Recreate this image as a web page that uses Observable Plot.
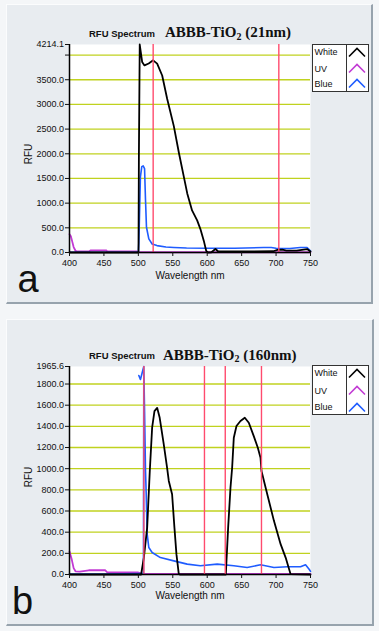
<!DOCTYPE html>
<html><head><meta charset="utf-8">
<script src="https://cdn.jsdelivr.net/npm/d3@7"></script>
<script src="https://cdn.jsdelivr.net/npm/@observablehq/plot@0.6"></script>
<style>
body{margin:0;background:#f4f6f8;}
#wrap{position:relative;width:379px;height:631px;overflow:hidden;font-family:"Liberation Sans",Arial,sans-serif;color:#111;}
.panel{position:absolute;background:#e8ecf0;border-top:1px solid #fbfcfd;border-left:1px solid #fbfcfd;border-right:2px solid #97a3ad;border-bottom:2px solid #97a3ad;box-sizing:border-box;}
.abs{position:absolute;white-space:nowrap;}
.t1{font-weight:bold;font-size:9.5px;line-height:10px;}
.t2{font-family:"Liberation Serif","Times New Roman",serif;font-weight:bold;font-size:15px;line-height:15px;}
.t2 .sub{font-size:10px;position:relative;top:2.5px;}
.xl{font-size:10px;line-height:10px;}
.yl{font-size:10px;line-height:10px;transform:rotate(-90deg);transform-origin:center center;}
.letter{font-size:38px;line-height:38px;}
.legend{position:absolute;background:#fff;border:1px solid #333;box-sizing:border-box;}
.legend .div{position:absolute;top:0;bottom:0;left:33px;width:1px;background:#333;}
.legend .lab{position:absolute;left:2px;font-size:9px;line-height:10px;}
.legend .ico{position:absolute;left:35px;width:20px;height:11px;}
.legend .ico svg{display:block;}
svg.plot{position:absolute;left:0;}
</style>
</head><body>
<div id="wrap"></div>
<script>
// ---------- data (wavelength nm / RFU) ----------
const xTicks = [400, 450, 500, 550, 600, 650, 700, 750];
const seriesNames = ["White", "UV", "Blue"];

// Panel a: ABBB-TiO2 (21nm)
const aTitle = "(21nm)";
const aYMax = 4214.1;
const aYTicks = [0, 500, 1000, 1500, 2000, 2500, 3000, 3500, 4214.1];
const aYTickBlank = [4000];
const aGrid = [500, 1000, 1500, 2000, 2500, 3000, 3500, 4000];
const aCursors = [521.5, 704];
const aWhiteNm = [400, 500.2, 500.8, 502, 505.5, 508.9, 515, 521.5, 527.3, 534.6, 541.9, 551.5, 559, 566, 571, 578, 585.4, 590, 595, 598.5, 601, 606, 612, 616, 620, 650, 696, 702, 709, 715, 730, 745, 750];
const aWhiteV  = [0, 0, 2000, 4214.1, 3861, 3791, 3830, 3893, 3826, 3586, 3109, 2561, 2010, 1537, 1197, 852, 650, 480, 240, 35, 0, 5, 70, 20, 20, 20, 25, 55, 60, 40, 40, 70, 20];
const aUVNm = [400, 402, 404, 406, 408.7, 412, 428, 431, 453, 455, 498, 502, 750];
const aUVV  = [370, 330, 220, 110, 35, 20, 20, 45, 45, 20, 20, 5, 5];
const aBlueNm = [400, 450, 500, 500.7, 503, 505, 507, 509, 510.4, 511.8, 515.2, 520, 527, 540, 551.5, 570, 600, 640, 682, 693, 700, 720, 735, 745, 748, 750];
const aBlueV  = [5, 5, 5, 200, 1537, 1740, 1756, 1700, 1059, 512, 275, 172, 140, 110, 102, 90, 85, 85, 100, 100, 85, 80, 100, 100, 60, 30];

// Panel b: ABBB-TiO2 (160nm)
const bTitle = "(160nm)";
const bYMax = 1965.6;
const bYTicks = [0, 200, 400, 600, 800, 1000, 1200, 1400, 1600, 1800, 1965.6];
const bYTickBlank = [];
const bGrid = [200, 400, 600, 800, 1000, 1200, 1400, 1600, 1800];
const bCursors = [508, 596, 626.2, 678.8];
const bWhiteNm = [400, 504, 508, 512.8, 516.6, 520, 523.4, 527.3, 531, 536.9, 541.7, 544.2, 549, 552.4, 555.3, 558.6, 560, 627, 630.4, 633.8, 636.2, 638.6, 642.5, 648.3, 654.6, 660.4, 667.6, 673.5, 677.4, 678.8, 680, 687.2, 696.9, 706.6, 713.9, 721, 750];
const bWhiteV  = [0, 0, 160, 443, 978, 1387, 1544, 1575, 1481, 1230, 1009, 884, 758, 443, 192, 10, 0, 0, 443, 821, 1009, 1292, 1403, 1450, 1481, 1434, 1308, 1198, 1104, 978, 947, 758, 507, 287, 160, 4, 0];
const bUVNm = [400, 403, 406, 408.7, 415, 428, 452, 455, 500, 505, 750];
const bUVV  = [217, 150, 60, 30, 28, 40, 40, 19, 19, 8, 5];
const bBlueNm = [400, 450, 503, 507.4, 507.9, 509, 510.4, 511.4, 512.8, 515.2, 520, 532, 551.5, 570.9, 590, 614.5, 638.6, 658, 677.4, 696.9, 716.3, 735.5, 742.8, 748, 750, 750, 500.7, 503, 507.9];
const bBlueV  = [5, 5, 8, 8, 1965.6, 1544, 978, 758, 381, 255, 208, 160, 129, 98, 82, 98, 82, 66, 92, 66, 73, 73, 92, 50, 30, null, 1880, 1843, 1965.6];

// ---------- drawing ----------
const colors = {White: "#000000", UV: "#c23ad4", Blue: "#1f5cff"};
const gridColor = "#c0d21f";
const cursorColor = "#ff4b6e";

function rows(nm, v) { return nm.map((x, i) => ({x, y: v[i]})); }

function chart(o) {
  return Plot.plot({
    width: 379, height: 300,
    marginTop: o.mt, marginBottom: o.mb, marginLeft: 69, marginRight: 69,
    style: {background: "transparent", fontFamily: "Liberation Sans, Arial, sans-serif", color: "#111", overflow: "visible"},
    x: {domain: [400, 750]},
    y: {domain: [0, o.ymax]},
    marks: [
      Plot.frame({fill: "white", stroke: "none"}),
      Plot.ruleY(o.grid, {stroke: gridColor, strokeWidth: 1.3}),
      Plot.line(rows(o.uvNm, o.uvV), {x: "x", y: "y", stroke: colors.UV, strokeWidth: 1.8}),
      Plot.line(rows(o.blueNm, o.blueV), {x: "x", y: "y", stroke: colors.Blue, strokeWidth: 1.6}),
      Plot.line(rows(o.whiteNm, o.whiteV), {x: "x", y: "y", stroke: colors.White, strokeWidth: 1.8}),
      Plot.ruleX(o.cursors, {stroke: cursorColor, strokeWidth: 1.4}),
      Plot.ruleX([400], {stroke: "#000", strokeWidth: 1.5}),
      Plot.ruleY([0], {stroke: "#000", strokeWidth: 1.5}),
      Plot.axisY(o.yticks, {tickFormat: d => d.toFixed(1), tickSize: 4, tickPadding: 1.5, fontSize: 9, label: null}),
      Plot.axisY(o.yblank, {tickFormat: () => "", tickSize: 4, label: null}),
      Plot.axisX(xTicks, {tickSize: 4, tickPadding: 3.5, fontSize: 9, label: null})
    ]
  });
}

const wrap = document.getElementById("wrap");
function add(html) { wrap.insertAdjacentHTML("beforeend", html); }

function chevron(c) {
  return `<svg width="20" height="11" viewBox="0 0 20 11"><polyline points="1,9.5 9,1.5 17,9.5" fill="none" stroke="${c}" stroke-width="1.6"/></svg>`;
}

function panel(p) {
  add(`<div class="panel" style="left:6px;top:${p.frameTop}px;width:${p.frameW}px;height:${p.frameH}px"></div>`);
  const svg = chart(p);
  svg.classList.add("plot");
  svg.style.top = p.top + "px";
  wrap.appendChild(svg);
  add(`<div class="abs t1" style="left:89px;top:${p.titleBase - 8.3}px">RFU Spectrum</div>`);
  add(`<div class="abs t2" style="left:${p.t2Left}px;top:${p.titleBase - 12}px">ABBB-TiO<span class="sub">2</span> ${p.title}</div>`);
  add(`<div class="abs xl" style="left:0;width:380px;text-align:center;top:${p.xlBase - 8.6}px">Wavelength nm</div>`);
  add(`<div class="abs yl" style="left:${28.7 - 15}px;width:30px;text-align:center;top:${p.ylCenter - 5}px">RFU</div>`);
  add(`<div class="abs letter" style="left:${p.letterLeft}px;top:${p.letterBase - 32.2}px">${p.letter}</div>`);
  let lg = `<div class="legend" style="left:311.5px;top:${p.lgTop}px;width:57px;height:${p.lgH}px"><div class="div"></div>`;
  seriesNames.forEach((n, i) => {
    const cy = p.lgRows[i];
    lg += `<div class="lab" style="top:${cy - 5.5}px">${n}</div>`;
    lg += `<div class="ico" style="top:${cy - 6}px">${chevron(colors[n])}</div>`;
  });
  lg += `</div>`;
  add(lg);
}

panel({
  frameTop: 4, frameW: 367, frameH: 300, top: 0, mt: 44, mb: 48,
  ymax: aYMax, yticks: aYTicks, yblank: aYTickBlank, grid: aGrid, cursors: aCursors,
  whiteNm: aWhiteNm, whiteV: aWhiteV, uvNm: aUVNm, uvV: aUVV, blueNm: aBlueNm, blueV: aBlueV,
  title: aTitle, titleBase: 37, t2Left: 165, xlBase: 279.3, ylCenter: 154,
  letter: "a", letterLeft: 17.5, letterBase: 291.7,
  lgTop: 43.5, lgH: 48.5, lgRows: [8.2, 24.8, 39.8]
});
panel({
  frameTop: 319, frameW: 368, frameH: 307, top: 320, mt: 46, mb: 46,
  ymax: bYMax, yticks: bYTicks, yblank: bYTickBlank, grid: bGrid, cursors: bCursors,
  whiteNm: bWhiteNm, whiteV: bWhiteV, uvNm: bUVNm, uvV: bUVV, blueNm: bBlueNm, blueV: bBlueV,
  title: bTitle, titleBase: 359.5, t2Left: 163, xlBase: 600, ylCenter: 477,
  letter: "b", letterLeft: 12, letterBase: 614,
  lgTop: 365, lgH: 49.5, lgRows: [7.7, 25, 41.7]
});
</script>
</body></html>
